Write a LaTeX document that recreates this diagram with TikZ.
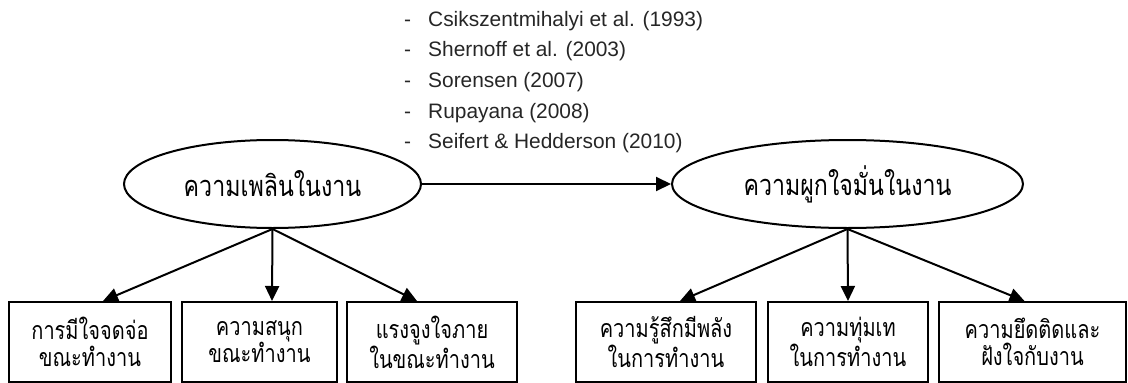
\documentclass[tikz,border=0pt]{standalone}
\usepackage{fontspec}
\setmainfont{Liberation Sans}
\newfontfamily\thaifont[Script=Thai,FakeStretch=0.8]{Loma}
\usetikzlibrary{shapes.geometric,arrows.meta}

\tikzset{
  concept/.style={draw, line width=2pt, ellipse, minimum height=88pt, inner sep=0pt,
                  font=\thaifont\fontsize{29}{34}\selectfont},
  facet/.style={draw, line width=2pt, rectangle, minimum height=80pt, inner sep=0pt,
                align=center, font=\thaifont\fontsize{25}{27}\selectfont},
  link/.style={line width=2pt, -{Triangle[length=15pt,width=14pt]}},
  citation/.style={anchor=base west, inner sep=0pt, text=black!85,
                   font=\fontsize{20.9}{25}\selectfont},
}

\begin{document}
\begin{tikzpicture}[x=1pt, y=-1pt]
  \useasboundingbox (0,0) rectangle (1128,383);

  % sources listed above the main arrow
  \foreach \i/\txt in {1/Csikszentmihalyi et al. (1993),
                       2/Shernoff et al. (2003),
                       3/Sorensen (2007),
                       4/Rupayana (2008),
                       5/Seifert \& Hedderson (2010)}
    \node[citation] (ref\i) at (404, {26 + (\i-1)*30.7}) {\makebox[24pt][l]{-}\txt};

  % the two main concepts
  \node[concept, minimum width=297pt] (flow) at (272.5,184) {ความเพลินในงาน};
  \node[concept, minimum width=351pt] (engage) at (847.5,184) {ความผูกใจมั่นในงาน};

  % components of flow at work
  \node[facet, minimum width=162pt] (f1) at (90,342) {การมีใจจดจ่อ\\ขณะทำงาน};
  \node[facet, minimum width=155pt] (f2) at (259.5,342) {ความสนุก\\ขณะทำงาน};
  \node[facet, minimum width=170pt] (f3) at (432,342) {แรงจูงใจภาย\\ในขณะทำงาน};

  % components of work engagement
  \node[facet, minimum width=180pt] (e1) at (666,342) {ความรู้สึกมีพลัง\\ในการทำงาน};
  \node[facet, minimum width=160pt] (e2) at (848,342) {ความทุ่มเท\\ในการทำงาน};
  \node[facet, minimum width=187pt] (e3) at (1032.5,342) {ความยึดติดและ\\ฝังใจกับงาน};

  % connectors
  \draw[link] (flow.east) -- (engage.west);

  \draw[link] (flow.south) -- ([xshift=13pt]f1.north);
  \draw[link] (flow.south) -- ([xshift=12.5pt]f2.north);
  \draw[link] (flow.south) -- ([xshift=-15pt]f3.north);

  \draw[link] (engage.south) -- ([xshift=14pt]e1.north);
  \draw[link] (engage.south) -- (e2.north);
  \draw[link] (engage.south) -- ([xshift=-8pt]e3.north);
\end{tikzpicture}
\end{document}
